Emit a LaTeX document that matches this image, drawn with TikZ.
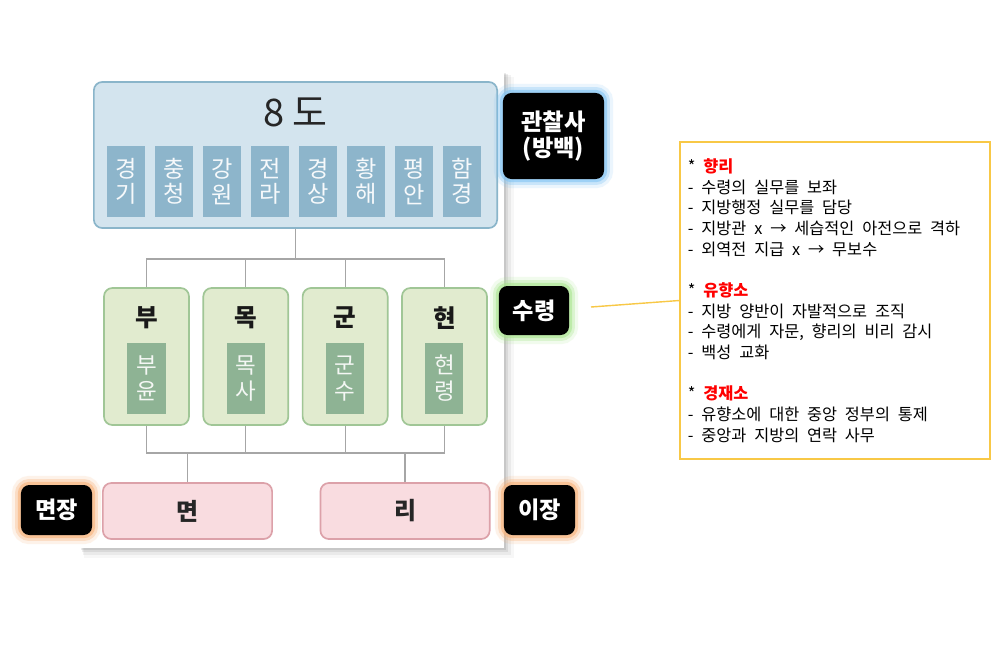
\documentclass[tikz,border=0pt]{standalone}
\usepackage{fontspec}
\setmainfont{Noto Sans CJK KR}
\newfontfamily\notefont{Noto Sans CJK KR}
\usepackage{tikz}
\usetikzlibrary{positioning}
\definecolor{doline}{HTML}{8AB5CA}
\definecolor{dofill}{HTML}{D3E4EE}
\definecolor{subfill}{HTML}{8DB5CB}
\definecolor{unitline}{HTML}{A0C696}
\definecolor{unitfill}{HTML}{E1EBCF}
\definecolor{unitsubfill}{HTML}{8EB394}
\definecolor{villline}{HTML}{DCA1A9}
\definecolor{villfill}{HTML}{F9DCE0}
\definecolor{linkgray}{HTML}{A6A6A6}
\definecolor{notegold}{HTML}{F8C846}
\definecolor{notered}{HTML}{FF0000}
\definecolor{glowblue}{HTML}{7CC2F4}
\definecolor{glowgreen}{HTML}{A6E58A}
\definecolor{gloworange}{HTML}{F8AE72}
\tikzset{%
	dobox/.style    = {draw=doline, fill=dofill, line width=1.2pt, rounded corners=6pt, minimum width=10.08cm, minimum height=3.65cm},
	dotitle/.style  = {font=\fontsize{27}{30}\selectfont, text=black!85},
	dosub/.style    = {fill=subfill, text=white!92!subfill, minimum width=0.95cm, minimum height=1.775cm, inner sep=0pt, align=center, font=\fontsize{16.5}{18}\selectfont},
	unitbox/.style  = {draw=unitline, fill=unitfill, line width=1.2pt, rounded corners=6pt, minimum width=2.125cm, minimum height=3.425cm},
	unitname/.style = {font=\fontsize{17.5}{19}\selectfont\bfseries, text=black!90},
	unitsub/.style  = {fill=unitsubfill, text=white!90!unitsubfill, minimum width=0.95cm, minimum height=1.775cm, inner sep=0pt, align=center, font=\fontsize{16}{18.5}\selectfont},
	villbox/.style  = {draw=villline, fill=villfill, line width=1.2pt, rounded corners=6pt, minimum width=4.23cm, minimum height=1.4cm, font=\fontsize{17}{19}\selectfont\bfseries, text=black!85},
	tagbox/.style   = {fill=black, text=white, rounded corners=6pt, align=center, inner sep=0pt,
		preaction={draw=#1, draw opacity=.15, line width=13pt},
		preaction={draw=#1, draw opacity=.3, line width=8.5pt},
		preaction={draw=#1, draw opacity=.55, line width=4.5pt}},
	notebox/.style  = {draw=notegold, line width=1pt, fill=white, minimum width=7.75cm, minimum height=7.925cm, inner xsep=0.2cm, text width=7.35cm, align=left, font=\notefont\fontsize{11.6}{14.7}\selectfont},
	link/.style     = {draw=linkgray, line width=0.8pt},
	noteline/.style = {draw=notegold, line width=1pt},
}
\begin{document}
\begin{tikzpicture}[x=0.025cm, y=-0.025cm]
		\fill[white] (0,0) rectangle (998,659);
		\useasboundingbox (0,0) rectangle (998,659);
		% panel with soft shadow
		\fill[black, opacity=.03] (84,77) rectangle (514,558);
		\fill[black, opacity=.05] (83,75) rectangle (511,555);
		\fill[black, opacity=.07] (82,74) rectangle (508,552);
		\fill[black, opacity=.08] (81,73) rectangle (506,550);
		\fill[white] (81,72) rectangle (504,548);
		
		\node[dobox] (do) at (295.5,155) {};
		\node[dotitle, above of=do, node distance=1.075cm] (dotext) {8 도};
		\node[dosub] (gg) at (126,181.5) {경\\기};
		\node[dosub, right of=gg, node distance=1.2cm] (cc) {충\\청};
		\node[dosub, right of=cc, node distance=1.2cm] (gw) {강\\원};
		\node[dosub, right of=gw, node distance=1.2cm] (jr) {전\\라};
		\node[dosub, right of=jr, node distance=1.2cm] (gs) {경\\상};
		\node[dosub, right of=gs, node distance=1.2cm] (hh) {황\\해};
		\node[dosub, right of=hh, node distance=1.2cm] (pa) {평\\안};
		\node[dosub, right of=pa, node distance=1.2cm] (hg) {함\\경};
		
		\node[unitbox] (bu) at (146.5,356.5) {};
		\node[unitbox, right of=bu, node distance=2.4825cm] (mok) {};
		\node[unitbox, right of=mok, node distance=2.4825cm] (gun) {};
		\node[unitbox, right of=gun, node distance=2.4825cm] (hyeon) {};
		\node[unitname, above of=bu, node distance=0.96cm] {부};
		\node[unitname, above of=mok, node distance=0.96cm] {목};
		\node[unitname, above of=gun, node distance=0.96cm] {군};
		\node[unitname, above of=hyeon, node distance=0.96cm] {현};
		\node[unitsub, below of=bu, node distance=0.55cm] (buyun) {부\\윤};
		\node[unitsub, below of=mok, node distance=0.55cm] (moksa) {목\\사};
		\node[unitsub, below of=gun, node distance=0.55cm] (gunsu) {군\\수};
		\node[unitsub, below of=hyeon, node distance=0.55cm] (hyeonryeong) {현\\령};
		
		\node[villbox] (myeon) at (187.5,511) {면};
		\node[villbox, right of=myeon, node distance=5.4375cm] (ri) {리};
		
		\coordinate (upbus) at (295.5,259);
		\coordinate (lowbus) at (295.5,453);
		\draw[link] (do.south) -- (upbus);
		\draw[link] (bu.north) |- (upbus);
		\draw[link] (mok.north) |- (upbus);
		\draw[link] (gun.north) |- (upbus);
		\draw[link] (hyeon.north) |- (upbus);
		\draw[link] (bu.south) |- (lowbus);
		\draw[link] (mok.south) |- (lowbus);
		\draw[link] (gun.south) |- (lowbus);
		\draw[link] (hyeon.south) |- (lowbus);
		\draw[link] (myeon.north) |- (lowbus);
		\draw[link] (ri.north) |- (lowbus);
		
		\node[tagbox=glowblue, minimum width=2.525cm, minimum height=2.15cm, font=\fontsize{16.5}{18}\selectfont\bfseries] (gwan) at (553.5,136) {관찰사\\(방백)};
		\node[tagbox=glowgreen, minimum width=1.75cm, minimum height=1.225cm, font=\fontsize{16.5}{18}\selectfont\bfseries] (su) at (534,310.5) {수령};
		\node[tagbox=gloworange, minimum width=1.775cm, minimum height=1.25cm, font=\fontsize{16.5}{18}\selectfont\bfseries] (myeonjang) at (56.5,510) {면장};
		\node[tagbox=gloworange, minimum width=1.775cm, minimum height=1.25cm, font=\fontsize{16.5}{18}\selectfont\bfseries] (ijang) at (539.5,510) {이장};
		
		\node[notebox] (note) at (835,300.5) {\spaceskip=0.48em\relax
			* {\color{notered}\bfseries 향리}\\
			- 수령의 실무를 보좌\\
			- 지방행정 실무를 담당\\
			- 지방관 x → 세습적인 아전으로 격하\\
			- 외역전 지급 x → 무보수\\[14.7pt]
			* {\color{notered}\bfseries 유향소}\\
			- 지방 양반이 자발적으로 조직\\
			- 수령에게 자문, 향리의 비리 감시\\
			- 백성 교화\\[14.7pt]
			* {\color{notered}\bfseries 경재소}\\
			- 유향소에 대한 중앙 정부의 통제\\
			- 중앙과 지방의 연락 사무};
		\coordinate (callout) at (591,307);
		\draw[noteline] (callout) -- (note.west);
\end{tikzpicture}
\end{document}
